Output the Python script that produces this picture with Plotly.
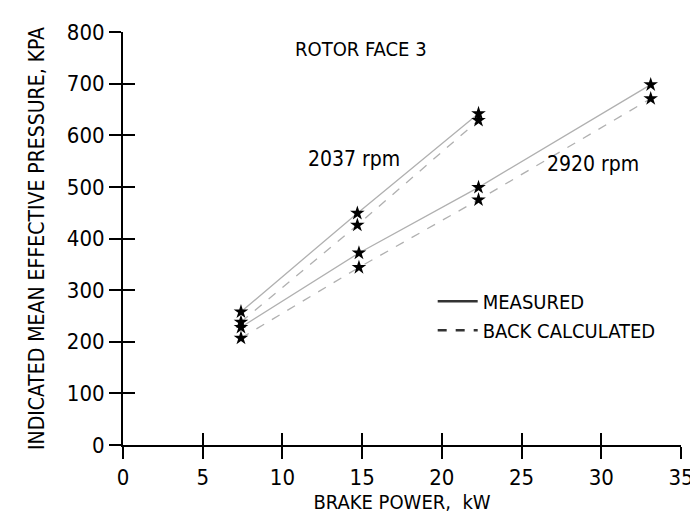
import plotly.graph_objects as go

# brake power (kW) and indicated mean effective pressure (kPa)
power_2037 = [7.4, 14.7, 22.3]
imep_2037_measured = [258, 449, 642]
imep_2037_back = [238, 426, 629]

power_2920 = [7.4, 14.8, 22.3, 33.1]
imep_2920_measured = [228, 372, 499, 698]
imep_2920_back = [207, 344, 475, 671]

x_ticks = [0, 5, 10, 15, 20, 25, 30, 35]
y_ticks = [0, 100, 200, 300, 400, 500, 600, 700, 800]

FONT = "DejaVu Sans Condensed, Liberation Sans Narrow, sans-serif"
LINE_GRAY = "#b0b0b0"

fig = go.Figure()

series = [
    (power_2037, imep_2037_measured, "solid"),
    (power_2037, imep_2037_back, "dash"),
    (power_2920, imep_2920_measured, "solid"),
    (power_2920, imep_2920_back, "dash"),
]
for xs, ys, dash in series:
    fig.add_trace(go.Scatter(
        x=xs, y=ys,
        mode="lines+markers",
        line=dict(color=LINE_GRAY, width=1.3, dash=dash),
        marker=dict(symbol="star", size=11, color="black"),
        showlegend=False
    ))

# legend entries
fig.add_trace(go.Scatter(x=[None], y=[None], mode="lines", name="MEASURED",
                         line=dict(color="#333333", width=2.5)))
fig.add_trace(go.Scatter(x=[None], y=[None], mode="lines", name="BACK CALCULATED",
                         line=dict(color="#333333", width=2.5, dash="dash")))

# empty trace on the overlay axes so the crossing ticks get drawn
fig.add_trace(go.Scatter(x=[None], y=[None], xaxis="x2", yaxis="y2",
                         showlegend=False, hoverinfo="skip"))

axis_common = dict(showgrid=False, zeroline=False, tickcolor="black", tickwidth=1.5)

fig.update_layout(
    width=698,
    height=517,
    plot_bgcolor="white",
    paper_bgcolor="white",
    margin=dict(l=115, r=16, t=13, b=80),
    font=dict(family=FONT, size=20, color="black"),
    xaxis=dict(
        range=[0, 35], tickvals=x_ticks, ticks="outside", ticklen=12,
        showline=True, linecolor="black", linewidth=2,
        title=dict(text="BRAKE POWER,  kW", standoff=2, font=dict(size=20)),
        tickfont=dict(size=22),
        **axis_common
    ),
    yaxis=dict(
        range=[0, 800], tickvals=y_ticks, ticks="outside", ticklen=12,
        showline=True, linecolor="black", linewidth=2,
        title=dict(text="INDICATED MEAN EFFECTIVE PRESSURE, KPA", standoff=16,
                   font=dict(size=21)),
        tickfont=dict(size=22),
        **axis_common
    ),
    xaxis2=dict(
        range=[0, 35], tickvals=x_ticks, ticks="inside", ticklen=12,
        overlaying="x", anchor="y", showticklabels=False, **axis_common
    ),
    yaxis2=dict(
        range=[0, 800], tickvals=y_ticks, ticks="inside", ticklen=12,
        overlaying="y", anchor="x", showticklabels=False, **axis_common
    ),
    legend=dict(
        x=0.555, y=0.395, xanchor="left", yanchor="top",
        bgcolor="rgba(0,0,0,0)", font=dict(size=20),
        tracegroupgap=0, itemwidth=40
    ),
    annotations=[
        dict(x=14.9, y=768, text="ROTOR FACE 3", showarrow=False,
             font=dict(size=20)),
        dict(x=14.5, y=554, text="2037 rpm", showarrow=False,
             font=dict(size=21)),
        dict(x=29.5, y=545, text="2920 rpm", showarrow=False,
             font=dict(size=21)),
    ],
)

fig.write_html("out.html")
